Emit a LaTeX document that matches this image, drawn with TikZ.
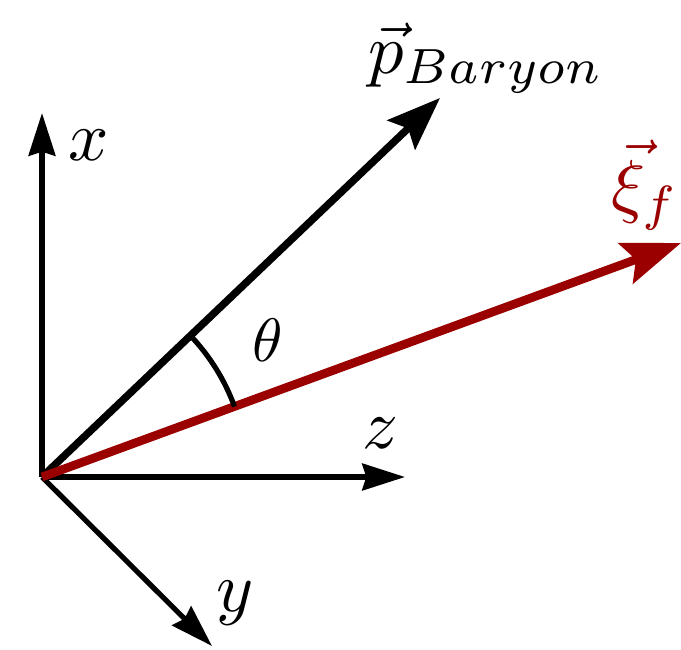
\documentclass[tikz,border=0pt]{standalone}
\usetikzlibrary{arrows.meta,calc}
\definecolor{vecred}{RGB}{155,0,0}
\begin{document}
\begin{tikzpicture}[x=0.75pt,y=-0.75pt,
  axis/.style={line width=3.9pt,-{Stealth[length=32pt,width=20pt,inset=3pt]}},
  pvec/.style={line width=5.6pt,-{Stealth[length=40pt,width=30pt,inset=7pt]}},
  xivec/.style={line width=6.5pt,vecred,-{Stealth[length=44pt,width=32pt,inset=8pt]}},
  lbl/.style={scale=5.3, inner sep=0pt}]
\useasboundingbox (0,0) rectangle (681,649);
\coordinate (O) at (42,477);
\coordinate (X) at (42,113);
\coordinate (Z) at (405,477);
\coordinate (Y) at (212,646);
\coordinate (P) at (440,98);
\coordinate (XI) at (681,243);
\draw[axis] (O) -- (X);
\draw[axis] (O) -- (Z);
\draw[axis] (O) -- (Y);
\draw[pvec] (O) -- (P);
\draw[xivec] (O) -- (XI);
\draw[line width=3.9pt] ($(O)+(-43.6:205)$) coordinate (A1) arc[start angle=-43.6, end angle=-20.1, radius=205];
\node[lbl] (lx) at (89,145) {$x$};
\node[lbl] (lz) at (380,433) {$z$};
\node[lbl] (ly) at (235,603) {$y$};
\node[scale=4.6,inner sep=0pt] (lth) at (268,340) {$\theta$};
\node[lbl] (lp) at (486,58) {$\vec{p}_{Baryon}$};
\node[lbl,text=vecred] (lxi) at (645,185) {$\vec{\xi}_f$};
\end{tikzpicture}
\end{document}
